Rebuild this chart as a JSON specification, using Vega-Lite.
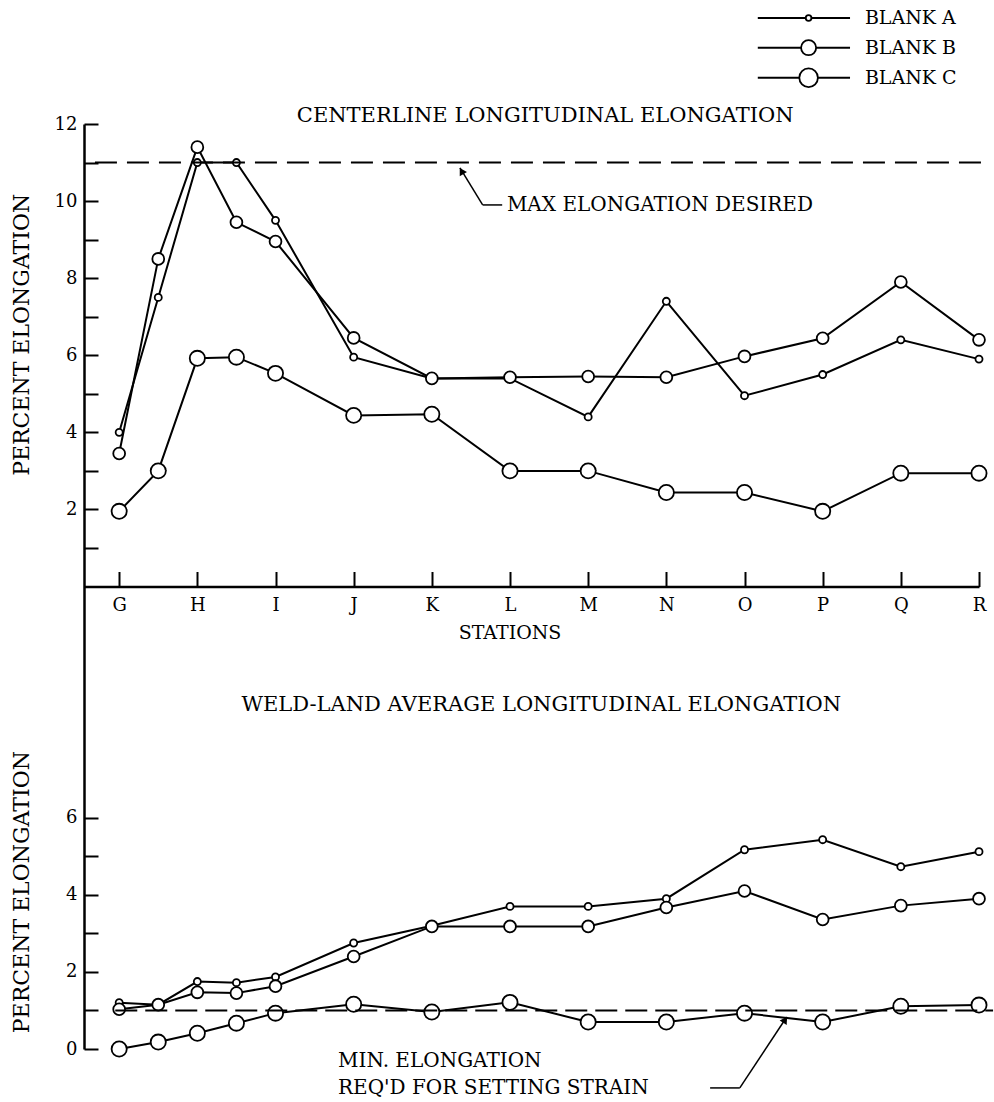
{
  "$schema": "https://vega.github.io/schema/vega-lite/v6.json",
  "width": 895,
  "height": 925,
  "autosize": {"type": "none"},
  "padding": {"left": 84, "top": 124, "right": 15, "bottom": 53},
  "background": "white",
  "config": {
    "view": {"stroke": null},
    "font": "DejaVu Serif",
    "axis": {"grid": false, "labelFont": "DejaVu Serif", "labelColor": "black", "labelFontSize": 18, "domainColor": "black", "tickColor": "black"}
  },
  "datasets": {
    "top": [
      {"series": "BLANK A", "station": 0, "value": 4.0},
      {"series": "BLANK A", "station": 0.5, "value": 7.5},
      {"series": "BLANK A", "station": 1, "value": 11.0},
      {"series": "BLANK A", "station": 1.5, "value": 11.0},
      {"series": "BLANK A", "station": 2, "value": 9.5},
      {"series": "BLANK A", "station": 3, "value": 5.95},
      {"series": "BLANK A", "station": 4, "value": 5.4},
      {"series": "BLANK A", "station": 5, "value": 5.4},
      {"series": "BLANK A", "station": 6, "value": 4.4},
      {"series": "BLANK A", "station": 7, "value": 7.4},
      {"series": "BLANK A", "station": 8, "value": 4.95},
      {"series": "BLANK A", "station": 9, "value": 5.5},
      {"series": "BLANK A", "station": 10, "value": 6.4},
      {"series": "BLANK A", "station": 11, "value": 5.9},
      {"series": "BLANK B", "station": 0, "value": 3.45},
      {"series": "BLANK B", "station": 0.5, "value": 8.5},
      {"series": "BLANK B", "station": 1, "value": 11.4},
      {"series": "BLANK B", "station": 1.5, "value": 9.45},
      {"series": "BLANK B", "station": 2, "value": 8.95},
      {"series": "BLANK B", "station": 3, "value": 6.45},
      {"series": "BLANK B", "station": 4, "value": 5.4},
      {"series": "BLANK B", "station": 5, "value": 5.43},
      {"series": "BLANK B", "station": 6, "value": 5.45},
      {"series": "BLANK B", "station": 7, "value": 5.43},
      {"series": "BLANK B", "station": 8, "value": 5.97},
      {"series": "BLANK B", "station": 9, "value": 6.44},
      {"series": "BLANK B", "station": 10, "value": 7.9},
      {"series": "BLANK B", "station": 11, "value": 6.4},
      {"series": "BLANK C", "station": 0, "value": 1.95},
      {"series": "BLANK C", "station": 0.5, "value": 3.0},
      {"series": "BLANK C", "station": 1, "value": 5.92},
      {"series": "BLANK C", "station": 1.5, "value": 5.95},
      {"series": "BLANK C", "station": 2, "value": 5.53},
      {"series": "BLANK C", "station": 3, "value": 4.44},
      {"series": "BLANK C", "station": 4, "value": 4.47},
      {"series": "BLANK C", "station": 5, "value": 3.0},
      {"series": "BLANK C", "station": 6, "value": 3.0},
      {"series": "BLANK C", "station": 7, "value": 2.44},
      {"series": "BLANK C", "station": 8, "value": 2.44},
      {"series": "BLANK C", "station": 9, "value": 1.95},
      {"series": "BLANK C", "station": 10, "value": 2.94},
      {"series": "BLANK C", "station": 11, "value": 2.94}
    ],
    "bottom": [
      {"series": "BLANK A", "station": 0, "value": 1.2},
      {"series": "BLANK A", "station": 0.5, "value": 1.15},
      {"series": "BLANK A", "station": 1, "value": 1.75},
      {"series": "BLANK A", "station": 1.5, "value": 1.72},
      {"series": "BLANK A", "station": 2, "value": 1.87},
      {"series": "BLANK A", "station": 3, "value": 2.75},
      {"series": "BLANK A", "station": 4, "value": 3.2},
      {"series": "BLANK A", "station": 5, "value": 3.7},
      {"series": "BLANK A", "station": 6, "value": 3.7},
      {"series": "BLANK A", "station": 7, "value": 3.9},
      {"series": "BLANK A", "station": 8, "value": 5.17},
      {"series": "BLANK A", "station": 9, "value": 5.43},
      {"series": "BLANK A", "station": 10, "value": 4.73},
      {"series": "BLANK A", "station": 11, "value": 5.12},
      {"series": "BLANK B", "station": 0, "value": 1.03},
      {"series": "BLANK B", "station": 0.5, "value": 1.15},
      {"series": "BLANK B", "station": 1, "value": 1.47},
      {"series": "BLANK B", "station": 1.5, "value": 1.45},
      {"series": "BLANK B", "station": 2, "value": 1.63},
      {"series": "BLANK B", "station": 3, "value": 2.4},
      {"series": "BLANK B", "station": 4, "value": 3.18},
      {"series": "BLANK B", "station": 5, "value": 3.18},
      {"series": "BLANK B", "station": 6, "value": 3.18},
      {"series": "BLANK B", "station": 7, "value": 3.67},
      {"series": "BLANK B", "station": 8, "value": 4.1},
      {"series": "BLANK B", "station": 9, "value": 3.36},
      {"series": "BLANK B", "station": 10, "value": 3.72},
      {"series": "BLANK B", "station": 11, "value": 3.9},
      {"series": "BLANK C", "station": 0, "value": 0.0},
      {"series": "BLANK C", "station": 0.5, "value": 0.18},
      {"series": "BLANK C", "station": 1, "value": 0.41},
      {"series": "BLANK C", "station": 1.5, "value": 0.67},
      {"series": "BLANK C", "station": 2, "value": 0.93},
      {"series": "BLANK C", "station": 3, "value": 1.16},
      {"series": "BLANK C", "station": 4, "value": 0.96},
      {"series": "BLANK C", "station": 5, "value": 1.21},
      {"series": "BLANK C", "station": 6, "value": 0.7},
      {"series": "BLANK C", "station": 7, "value": 0.7},
      {"series": "BLANK C", "station": 8, "value": 0.93},
      {"series": "BLANK C", "station": 9, "value": 0.7},
      {"series": "BLANK C", "station": 10, "value": 1.11},
      {"series": "BLANK C", "station": 11, "value": 1.14}
    ]
  },
  "layer": [
    {
      "layer": [
        {
          "data": {"name": "top"},
          "mark": {"type": "line", "color": "black", "strokeWidth": 2},
          "encoding": {
            "x": {"field": "station", "type": "quantitative", "title": null,
              "scale": {"domain": [-0.45, 11], "nice": false, "zero": false},
              "axis": {"orient": "bottom", "offset": -462.5, "values": [0,1,2,3,4,5,6,7,8,9,10,11],
                "labelExpr": "['G','H','I','J','K','L','M','N','O','P','Q','R'][datum.value]",
                "title": null, "domainWidth": 2.5, "tickWidth": 2, "tickSize": -15, "labelPadding": 25,
                "labelFlush": false, "labelOverlap": false}},
            "y": {"field": "value", "type": "quantitative", "title": null,
              "scale": {"domain": [-12, 12], "nice": false, "zero": false},
              "axis": {"orient": "left", "values": [1,2,3,4,5,6,7,8,9,10,11,12],
                "labelExpr": "datum.value % 2 === 0 ? datum.label : ''",
                "title": null, "domainWidth": 2.5, "tickWidth": 2, "tickSize": -14, "labelPadding": 21,
                "labelOverlap": false, "labelFlush": false}},
            "detail": {"field": "series"}
          }
        },
        {
          "data": {"name": "top"},
          "mark": {"type": "point", "filled": true, "fill": "white", "stroke": "black", "strokeWidth": 1.8, "opacity": 1},
          "encoding": {
            "x": {"field": "station", "type": "quantitative", "title": null},
            "y": {"field": "value", "type": "quantitative", "title": null},
            "size": {"field": "series", "type": "ordinal", "scale": {"domain": ["BLANK A", "BLANK B", "BLANK C"], "range": [50, 230, 390]}, "legend": null}
          }
        },
        {
          "data": {"values": [{}]},
          "mark": {"type": "rule", "color": "black", "strokeWidth": 2},
          "encoding": {"x": {"datum": 8.17}, "x2": {"datum": 9.35}, "y": {"datum": 14.75}}
        },
        {
          "data": {"values": [{}]},
          "mark": {"type": "rule", "color": "black", "strokeWidth": 2},
          "encoding": {"x": {"datum": 8.17}, "x2": {"datum": 9.35}, "y": {"datum": 13.98}}
        },
        {
          "data": {"values": [{}]},
          "mark": {"type": "rule", "color": "black", "strokeWidth": 2},
          "encoding": {"x": {"datum": 8.17}, "x2": {"datum": 9.35}, "y": {"datum": 13.2}}
        },
        {
          "data": {"values": [{}]},
          "mark": {"type": "point", "filled": true, "fill": "white", "stroke": "black", "strokeWidth": 1.8, "opacity": 1, "size": 32},
          "encoding": {"x": {"datum": 8.82}, "y": {"datum": 14.75}}
        },
        {
          "data": {"values": [{}]},
          "mark": {"type": "point", "filled": true, "fill": "white", "stroke": "black", "strokeWidth": 1.8, "opacity": 1, "size": 227},
          "encoding": {"x": {"datum": 8.82}, "y": {"datum": 13.98}}
        },
        {
          "data": {"values": [{}]},
          "mark": {"type": "point", "filled": true, "fill": "white", "stroke": "black", "strokeWidth": 1.8, "opacity": 1, "size": 346},
          "encoding": {"x": {"datum": 8.82}, "y": {"datum": 13.2}}
        },
        {
          "data": {"values": [{}]},
          "mark": {"type": "text", "font": "DejaVu Serif", "fontSize": 19, "color": "black", "align": "left", "baseline": "middle"},
          "encoding": {"x": {"datum": 9.54}, "y": {"datum": 14.75}, "text": {"value": "BLANK A"}}
        },
        {
          "data": {"values": [{}]},
          "mark": {"type": "text", "font": "DejaVu Serif", "fontSize": 19, "color": "black", "align": "left", "baseline": "middle"},
          "encoding": {"x": {"datum": 9.54}, "y": {"datum": 13.98}, "text": {"value": "BLANK B"}}
        },
        {
          "data": {"values": [{}]},
          "mark": {"type": "text", "font": "DejaVu Serif", "fontSize": 19, "color": "black", "align": "left", "baseline": "middle"},
          "encoding": {"x": {"datum": 9.54}, "y": {"datum": 13.2}, "text": {"value": "BLANK C"}}
        },
        {
          "data": {"values": [{}]},
          "mark": {"type": "rule", "color": "black", "strokeWidth": 2, "strokeDash": [22, 10]},
          "encoding": {"x": {"datum": -0.31}, "x2": {"datum": 11.14}, "y": {"datum": 11}}
        },
        {
          "data": {"values": [{}]},
          "mark": {"type": "rule", "color": "black", "strokeWidth": 1.5},
          "encoding": {"x": {"datum": 4.36}, "y": {"datum": 10.86}, "x2": {"datum": 4.65}, "y2": {"datum": 9.9}}
        },
        {
          "data": {"values": [{}]},
          "mark": {"type": "rule", "color": "black", "strokeWidth": 1.5},
          "encoding": {"x": {"datum": 4.65}, "y": {"datum": 9.9}, "x2": {"datum": 4.9}}
        },
        {
          "data": {"values": [{}]},
          "mark": {"type": "point", "shape": "triangle-up", "filled": true, "color": "black", "size": 70, "angle": 330, "opacity": 1},
          "encoding": {"x": {"datum": 4.38}, "y": {"datum": 10.78}}
        },
        {
          "data": {"values": [{}]},
          "mark": {"type": "text", "font": "DejaVu Serif", "fontSize": 21, "color": "black", "align": "center", "baseline": "middle"},
          "encoding": {"x": {"datum": 5.45}, "y": {"datum": 12.21}, "text": {"value": "CENTERLINE LONGITUDINAL ELONGATION"}}
        },
        {
          "data": {"values": [{}]},
          "mark": {"type": "text", "font": "DejaVu Serif", "fontSize": 20, "color": "black", "align": "left", "baseline": "middle"},
          "encoding": {"x": {"datum": 4.96}, "y": {"datum": 9.9}, "text": {"value": "MAX ELONGATION DESIRED"}}
        },
        {
          "data": {"values": [{}]},
          "mark": {"type": "text", "font": "DejaVu Serif", "fontSize": 19, "color": "black", "align": "center", "baseline": "middle"},
          "encoding": {"x": {"datum": 5.0}, "y": {"datum": -1.21}, "text": {"value": "STATIONS"}}
        },
        {
          "data": {"values": [{}]},
          "mark": {"type": "text", "font": "DejaVu Serif", "fontSize": 22, "color": "black", "align": "center", "baseline": "middle", "angle": 270},
          "encoding": {"x": {"datum": -1.24}, "y": {"datum": 6.53}, "text": {"value": "PERCENT ELONGATION"}}
        }
      ]
    },
    {
      "layer": [
        {
          "data": {"name": "bottom"},
          "mark": {"type": "line", "color": "black", "strokeWidth": 2},
          "encoding": {
            "x": {"field": "station", "type": "quantitative", "title": null},
            "y": {"field": "value", "type": "quantitative", "title": null,
              "scale": {"domain": [0, 24], "nice": false, "zero": false},
              "axis": {"orient": "left", "values": [0,1,2,3,4,5,6],
                "labelExpr": "datum.value % 2 === 0 ? datum.label : ''",
                "title": null, "domain": false, "tickWidth": 2, "tickSize": -14, "labelPadding": 21,
                "labelOverlap": false, "labelFlush": false}},
            "detail": {"field": "series"}
          }
        },
        {
          "data": {"name": "bottom"},
          "mark": {"type": "point", "filled": true, "fill": "white", "stroke": "black", "strokeWidth": 1.8, "opacity": 1},
          "encoding": {
            "x": {"field": "station", "type": "quantitative", "title": null},
            "y": {"field": "value", "type": "quantitative", "title": null},
            "size": {"field": "series", "type": "ordinal", "scale": {"domain": ["BLANK A", "BLANK B", "BLANK C"], "range": [50, 230, 390]}, "legend": null}
          }
        },
        {
          "data": {"values": [{}]},
          "mark": {"type": "rule", "color": "black", "strokeWidth": 2, "strokeDash": [22, 8]},
          "encoding": {"x": {"datum": -0.05}, "x2": {"datum": 11.18}, "y": {"datum": 1.0}}
        },
        {
          "data": {"values": [{}]},
          "mark": {"type": "rule", "color": "black", "strokeWidth": 1.5},
          "encoding": {"x": {"datum": 7.56}, "y": {"datum": -1.01}, "x2": {"datum": 7.94}}
        },
        {
          "data": {"values": [{}]},
          "mark": {"type": "rule", "color": "black", "strokeWidth": 1.5},
          "encoding": {"x": {"datum": 7.94}, "y": {"datum": -1.01}, "x2": {"datum": 8.54}, "y2": {"datum": 0.83}}
        },
        {
          "data": {"values": [{}]},
          "mark": {"type": "point", "shape": "triangle-up", "filled": true, "color": "black", "size": 70, "angle": 33, "opacity": 1},
          "encoding": {"x": {"datum": 8.52}, "y": {"datum": 0.76}}
        },
        {
          "data": {"values": [{}]},
          "mark": {"type": "text", "font": "DejaVu Serif", "fontSize": 21, "color": "black", "align": "center", "baseline": "middle"},
          "encoding": {"x": {"datum": 5.4}, "y": {"datum": 8.93}, "text": {"value": "WELD-LAND AVERAGE LONGITUDINAL ELONGATION"}}
        },
        {
          "data": {"values": [{}]},
          "mark": {"type": "text", "font": "DejaVu Serif", "fontSize": 20, "color": "black", "align": "left", "baseline": "middle"},
          "encoding": {"x": {"datum": 2.8}, "y": {"datum": -0.31}, "text": {"value": "MIN. ELONGATION"}}
        },
        {
          "data": {"values": [{}]},
          "mark": {"type": "text", "font": "DejaVu Serif", "fontSize": 20, "color": "black", "align": "left", "baseline": "middle"},
          "encoding": {"x": {"datum": 2.8}, "y": {"datum": -1.01}, "text": {"value": "REQ'D FOR SETTING STRAIN"}}
        },
        {
          "data": {"values": [{}]},
          "mark": {"type": "text", "font": "DejaVu Serif", "fontSize": 22, "color": "black", "align": "center", "baseline": "middle", "angle": 270},
          "encoding": {"x": {"datum": -1.24}, "y": {"datum": 4.07}, "text": {"value": "PERCENT ELONGATION"}}
        }
      ]
    }
  ],
  "resolve": {"scale": {"y": "independent"}, "axis": {"y": "independent"}}
}
